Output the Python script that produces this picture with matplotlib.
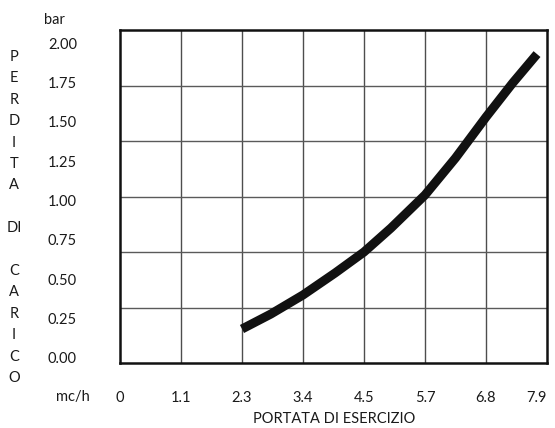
import numpy as np
import matplotlib
matplotlib.use("Agg")
import matplotlib.pyplot as plt

# flow ticks (mc/h) -- equally spaced on the drawing
flow_ticks = [0, 1.1, 2.3, 3.4, 4.5, 5.7, 6.8, 7.9]
flow_labels = ["0", "1.1", "2.3", "3.4", "4.5", "5.7", "6.8", "7.9"]
bar_ticks = [0.0, 0.25, 0.5, 0.75, 1.0, 1.25, 1.5, 1.75, 2.0]
bar_labels = ["0.00", "0.25", "0.50", "0.75", "1.00", "1.25", "1.50", "1.75", "2.00"]

# pressure-drop curve
flow = [2.3, 2.82, 3.4, 3.98, 4.5, 5.03, 5.7, 6.25, 6.8, 7.28, 7.72]
drop = [0.184, 0.279, 0.40, 0.54, 0.673, 0.825, 1.035, 1.27, 1.53, 1.746, 1.93]

plt.rcParams["font.family"] = ["Lato", "DejaVu Sans"]
txt = "#1a1a1a"
fs = 10.5

fig = plt.figure(figsize=(5.55, 4.28), dpi=100)
ax = fig.add_axes([120 / 555, 1 - 363 / 428, 427 / 555, 333 / 428])

idx = np.arange(len(flow_ticks), dtype=float)
ax.set_xscale("function",
              functions=(lambda x: np.interp(x, flow_ticks, idx),
                         lambda p: np.interp(p, idx, flow_ticks)))
ax.set_xlim(0, 7.9)
y_lo, y_hi = -0.032, 2.083
ax.set_ylim(y_lo, y_hi)

ax.plot(flow, drop, color="#111111", lw=6.5, solid_capstyle="butt",
        solid_joinstyle="round", zorder=3)

ax.set_xticks(flow_ticks)
ax.set_xticklabels(flow_labels, fontsize=fs, color=txt)
ax.get_xticklabels()[-1].set_ha("right")
ax.set_yticks(bar_ticks)
ax.set_yticklabels(bar_labels, fontsize=fs, color=txt)
ax.tick_params(axis="both", which="both", length=0)
ax.tick_params(axis="x", pad=20)
ax.tick_params(axis="y", pad=31)

# grid: vertical lines at flow ticks, 6 equal horizontal bands
for xv in flow_ticks[1:-1]:
    ax.axvline(xv, color="#4d4d4d", lw=1.0, zorder=1)
for yv in np.linspace(y_lo, y_hi, 7)[1:-1]:
    ax.axhline(yv, color="#5a5a5a", lw=1.0, zorder=1)
for s in ax.spines.values():
    s.set_linewidth(1.8)
    s.set_color("#111111")

fig.text(44 / 555, 1 - 20 / 428, "bar", fontsize=fs, color=txt, ha="left", va="center")
fig.text(73 / 555, 1 - 397 / 428, "mc/h", fontsize=fs, color=txt, ha="center", va="center")
fig.text(334 / 555, 1 - 419 / 428, "PORTATA DI ESERCIZIO", fontsize=fs, color=txt,
         ha="center", va="center")

# vertical y-axis label, one letter per line
rows = list("PERDITA") + [""] + ["DI"] + [""] + list("CARICO")
for i, ch in enumerate(rows):
    if ch:
        fig.text(14 / 555, 1 - (57 + i * 21.4) / 428, ch, fontsize=fs, color=txt,
                 ha="center", va="center")

fig.savefig("out.png", dpi=100)
